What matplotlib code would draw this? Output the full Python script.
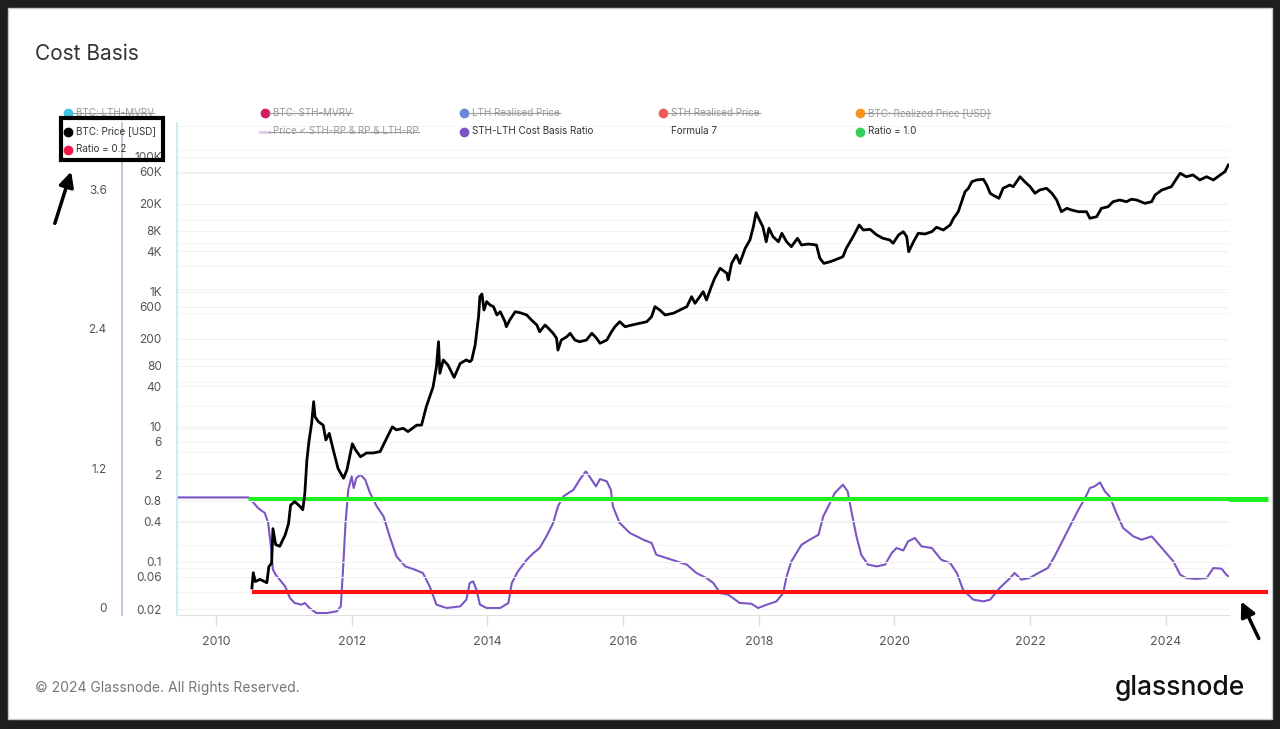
import matplotlib.pyplot as plt
import numpy as np
from matplotlib.lines import Line2D
from matplotlib.patches import Rectangle, FancyArrowPatch
from matplotlib.ticker import NullLocator
from matplotlib.transforms import ScaledTranslation

plt.rcParams['font.family'] = ['Inter', 'DejaVu Sans']

# BTC price [USD] (decimal year, price)
price_years = [
    2010.53, 2010.55, 2010.58, 2010.65, 2010.75, 2010.78, 2010.82, 2010.84, 2010.88, 2010.94,
    2011.02, 2011.07, 2011.10, 2011.16, 2011.24, 2011.28, 2011.31, 2011.34, 2011.37, 2011.41,
    2011.44, 2011.46, 2011.51, 2011.58, 2011.62, 2011.67, 2011.73, 2011.80, 2011.88, 2011.93,
    2011.97, 2012.01, 2012.06, 2012.13, 2012.22, 2012.32, 2012.42, 2012.49, 2012.60, 2012.66,
    2012.76, 2012.83, 2012.96, 2013.03, 2013.10, 2013.20, 2013.25, 2013.28, 2013.30, 2013.35,
    2013.42, 2013.51, 2013.60, 2013.69, 2013.74, 2013.77, 2013.82, 2013.87, 2013.89, 2013.92,
    2013.95, 2013.99, 2014.04, 2014.09, 2014.14, 2014.19, 2014.26, 2014.28, 2014.33, 2014.41,
    2014.48, 2014.58, 2014.65, 2014.73, 2014.77, 2014.85, 2014.90, 2014.97, 2015.02, 2015.04,
    2015.09, 2015.17, 2015.22, 2015.29, 2015.36, 2015.46, 2015.54, 2015.61, 2015.66, 2015.76,
    2015.83, 2015.88, 2015.95, 2016.03, 2016.13, 2016.25, 2016.35, 2016.42, 2016.47, 2016.54,
    2016.62, 2016.74, 2016.84, 2016.94, 2017.01, 2017.06, 2017.13, 2017.18, 2017.23, 2017.30,
    2017.35, 2017.43, 2017.53, 2017.55, 2017.60, 2017.67, 2017.72, 2017.80, 2017.87, 2017.92,
    2017.96, 2018.01, 2018.06, 2018.11, 2018.15, 2018.21, 2018.29, 2018.34, 2018.41, 2018.48,
    2018.57, 2018.63, 2018.73, 2018.85, 2018.90, 2018.96, 2019.05, 2019.12, 2019.24, 2019.29,
    2019.39, 2019.48, 2019.54, 2019.64, 2019.74, 2019.83, 2019.93, 2019.98, 2020.06, 2020.13,
    2020.18, 2020.21, 2020.28, 2020.35, 2020.45, 2020.55, 2020.62, 2020.72, 2020.82, 2020.87,
    2020.94, 2020.99, 2021.04, 2021.09, 2021.14, 2021.21, 2021.31, 2021.36, 2021.41, 2021.45,
    2021.54, 2021.60, 2021.70, 2021.75, 2021.85, 2021.92, 2022.00, 2022.07, 2022.14, 2022.24,
    2022.32, 2022.39, 2022.46, 2022.54, 2022.61, 2022.71, 2022.83, 2022.88, 2022.98, 2023.05,
    2023.15, 2023.22, 2023.32, 2023.42, 2023.49, 2023.57, 2023.69, 2023.79, 2023.84, 2023.94,
    2024.08, 2024.16, 2024.21, 2024.30, 2024.40, 2024.50, 2024.60, 2024.70, 2024.80, 2024.87,
    2024.92,
]
price_usd = [
    0.041, 0.069, 0.051, 0.055, 0.049, 0.085, 0.095, 0.31, 0.18, 0.17,
    0.25, 0.37, 0.69, 0.78, 0.66, 0.59, 1.04, 3.2, 6.0, 11.3,
    23.6, 14.1, 11.9, 10.6, 6.4, 8.0, 4.5, 2.4, 1.73, 2.3,
    3.6, 5.6, 4.5, 3.6, 4.1, 4.1, 4.3, 6.0, 10.0, 9.0,
    9.5, 8.5, 10.6, 10.6, 19.9, 39, 78, 182, 62, 98,
    82, 54, 87, 98, 92, 98, 163, 428, 847, 929,
    538, 715, 638, 603, 454, 507, 361, 304, 382, 507,
    491, 454, 382, 322, 256, 322, 288, 243, 205, 137,
    193, 216, 243, 193, 182, 193, 243, 205, 173, 193,
    256, 304, 361, 304, 322, 342, 361, 428, 603, 538,
    454, 481, 538, 603, 847, 676, 847, 1005, 757, 1190,
    1585, 2230, 1880, 1500, 2640, 3510, 2640, 4420, 5860, 9230,
    14860, 11590, 9230, 5520, 8750, 6560, 5520, 7360, 5520, 4660,
    6210, 4940, 5110, 4940, 3140, 2640, 2790, 2960, 3310, 4420,
    6560, 9770, 8240, 8430, 6950, 6210, 5860, 5240, 6950, 7780,
    6560, 3930, 5520, 7360, 7190, 7780, 9040, 8240, 9770, 12280,
    15380, 21620, 30410, 34200, 42770, 45400, 46460, 38200, 28840, 27160,
    24270, 34200, 38200, 36060, 50700, 42770, 36060, 28840, 32220, 34200,
    28840, 22920, 15380, 17260, 16290, 15380, 15380, 12280, 12970, 17260,
    18240, 21620, 22920, 21620, 23500, 22920, 20460, 21620, 27160, 32220,
    36060, 48080, 57020, 50700, 53830, 45400, 50700, 45400, 53830, 60260,
    75680,
]

# STH-LTH cost basis ratio
ratio_years = [
    2009.43, 2010.48, 2010.55, 2010.62, 2010.72, 2010.77, 2010.81, 2010.84, 2010.88, 2010.94,
    2011.02, 2011.09, 2011.16, 2011.26, 2011.31, 2011.38, 2011.48, 2011.63, 2011.78, 2011.84,
    2011.87, 2011.91, 2011.95, 2012.00, 2012.03, 2012.07, 2012.13, 2012.20, 2012.27, 2012.37,
    2012.47, 2012.56, 2012.66, 2012.79, 2012.93, 2013.05, 2013.15, 2013.25, 2013.40, 2013.60,
    2013.69, 2013.74, 2013.79, 2013.84, 2013.89, 2013.99, 2014.19, 2014.31, 2014.36, 2014.45,
    2014.58, 2014.68, 2014.77, 2014.87, 2014.97, 2015.04, 2015.12, 2015.27, 2015.36, 2015.45,
    2015.52, 2015.60, 2015.66, 2015.76, 2015.82, 2015.85, 2015.95, 2016.10, 2016.30, 2016.42,
    2016.49, 2016.64, 2016.79, 2016.94, 2017.08, 2017.23, 2017.33, 2017.43, 2017.55, 2017.72,
    2017.89, 2017.99, 2018.12, 2018.26, 2018.36, 2018.41, 2018.48, 2018.63, 2018.75, 2018.88,
    2018.95, 2019.05, 2019.12, 2019.24, 2019.31, 2019.37, 2019.44, 2019.51, 2019.61, 2019.74,
    2019.86, 2019.96, 2020.03, 2020.13, 2020.20, 2020.30, 2020.40, 2020.55, 2020.69, 2020.82,
    2020.92, 2021.01, 2021.16, 2021.31, 2021.41, 2021.55, 2021.68, 2021.77, 2021.87, 2021.99,
    2022.12, 2022.26, 2022.36, 2022.46, 2022.56, 2022.71, 2022.81, 2022.88, 2022.95, 2023.03,
    2023.10, 2023.17, 2023.27, 2023.37, 2023.52, 2023.64, 2023.79, 2023.94, 2024.11, 2024.21,
    2024.30, 2024.45, 2024.60, 2024.70, 2024.82, 2024.89, 2024.93,
]
ratio_values = [
    1.011, 1.011, 0.968, 0.920, 0.877, 0.791, 0.590, 0.390, 0.347, 0.304,
    0.246, 0.146, 0.103, 0.089, 0.103, 0.060, 0.017, 0.017, 0.031, 0.074,
    0.361, 0.791, 1.077, 1.192, 1.092, 1.178, 1.206, 1.163, 1.049, 0.934,
    0.848, 0.676, 0.504, 0.418, 0.390, 0.361, 0.246, 0.089, 0.060, 0.074,
    0.132, 0.275, 0.289, 0.218, 0.089, 0.060, 0.060, 0.103, 0.275, 0.375,
    0.475, 0.533, 0.576, 0.676, 0.791, 0.934, 1.020, 1.077, 1.163, 1.235,
    1.178, 1.106, 1.169, 1.149, 1.077, 0.934, 0.791, 0.705, 0.647, 0.619,
    0.518, 0.490, 0.461, 0.433, 0.361, 0.318, 0.275, 0.189, 0.175, 0.103,
    0.097, 0.060, 0.089, 0.117, 0.189, 0.332, 0.461, 0.604, 0.647, 0.690,
    0.848, 0.963, 1.049, 1.120, 1.063, 0.877, 0.676, 0.518, 0.433, 0.418,
    0.433, 0.533, 0.576, 0.555, 0.633, 0.662, 0.590, 0.576, 0.475, 0.447,
    0.361, 0.218, 0.132, 0.117, 0.132, 0.232, 0.304, 0.361, 0.304, 0.318,
    0.361, 0.404, 0.504, 0.619, 0.733, 0.905, 1.006, 1.092, 1.106, 1.140,
    1.063, 1.020, 0.877, 0.748, 0.676, 0.647, 0.676, 0.576, 0.461, 0.347,
    0.318, 0.310, 0.318, 0.404, 0.398, 0.347, 0.327,
]

# horizontal reference levels (ratio, first year, last year)
level_high = [1.0, 2010.47, 2025.5]
level_low = [0.2, 2010.53, 2025.5]

price_ticks = [0.02, 0.06, 0.1, 0.4, 0.8, 2, 6, 10, 40, 80, 200, 600,
               1000, 4000, 8000, 20000, 60000, 100000]
price_tick_labels = ['0.02', '0.06', '0.1', '0.4', '0.8', '2', '6', '10', '40', '80',
                     '200', '600', '1K', '4K', '8K', '20K', '60K', '100K']
ratio_ticks = [0, 1.2, 2.4, 3.6]
ratio_tick_labels = ['0', '1.2', '2.4', '3.6']
year_ticks = [2010, 2012, 2014, 2016, 2018, 2020, 2022, 2024]

legend_labels = ['BTC: LTH-MVRV', 'BTC: STH-MVRV', 'LTH Realised Price', 'STH Realised Price',
                 'BTC: Realized Price [USD]',
                 'BTC: Price [USD]', 'Price < STH-RP & RP & LTH-RP', 'STH-LTH Cost Basis Ratio',
                 'Formula 7', 'Ratio = 1.0',
                 'Ratio = 0.2']
legend_colors = ['#3cc3e6', '#cf1d62', '#6a86d6', '#ef5a5a', '#f7931a',
                 '#000000', '#dcc9ef', '#7c55c4', None, '#35d05a',
                 '#ee1848']
legend_hidden = [True, True, True, True, True,
                 False, True, False, False, False,
                 False]

W, H = 1280, 729


def fx(px):
    return px / W


def fy(py):
    return 1 - py / H


fig = plt.figure(figsize=(12.8, 7.29), dpi=100, facecolor='#1e1e1e')
fig.patches.append(Rectangle((fx(8), fy(719)), fx(1272) - fx(8), fy(8) - fy(719),
                             transform=fig.transFigure, facecolor='white',
                             edgecolor='#c8c8c8', lw=1, zorder=0))

ax = fig.add_axes([fx(177), fy(615), fx(1229) - fx(177), fy(123) - fy(615)])
axr = ax.twinx()
ax.set_zorder(3)
axr.set_zorder(2)
ax.patch.set_visible(False)
axr.patch.set_visible(False)

# price axis (log)
ax.set_yscale('log')
ax.set_ylim(0.0163, 316900)
ax.set_yticks(price_ticks, price_tick_labels)
ax.yaxis.set_minor_locator(NullLocator())
ax.tick_params(axis='y', length=0, pad=11, labelsize=8.5, labelcolor='#555555')
ax.grid(axis='y', color='#f1f1f1', lw=0.8)
ax.set_xlim(2009.426, 2024.93)
ax.set_xticks(year_ticks, [str(y) for y in year_ticks])
ax.tick_params(axis='x', length=8, width=1, color='#e0e0e0', pad=7,
               labelsize=9, labelcolor='#555555')
for s in ['top', 'right']:
    ax.spines[s].set_visible(False)
ax.spines['left'].set_color('#c3e6f3')
ax.spines['left'].set_linewidth(1.2)
ax.spines['bottom'].set_color('#e0e0e0')

# ratio axis, further out on the left (55 px)
axr.yaxis.tick_left()
axr.spines['left'].set_position(('outward', 55 * 0.72))
axr.spines['left'].set_visible(True)
axr.spines['left'].set_color('#b3bfd9')
axr.spines['left'].set_linewidth(1.2)
for s in ['top', 'right', 'bottom']:
    axr.spines[s].set_visible(False)
axr.set_ylim(0, 4.23)
axr.set_yticks(ratio_ticks, ratio_tick_labels)
axr.set_yticks(np.arange(0, 4.3, 0.2), minor=True)
axr.tick_params(axis='y', which='both', length=0, pad=11, labelsize=8.5, labelcolor='#555555')
axr.grid(axis='y', which='minor', color='#f4f4f4', lw=0.8)
offset = ScaledTranslation(0, 7 / 100, fig.dpi_scale_trans)
for lbl in axr.get_yticklabels():
    lbl.set_transform(lbl.get_transform() + offset)

axr.plot(ratio_years, ratio_values, color='#7c55c4', lw=1.5, zorder=3)
axr.plot(level_high[1:], [level_high[0]] * 2, color='#1ff01f', lw=3.6, clip_on=False,
         solid_capstyle='butt', zorder=4)
axr.plot(level_low[1:], [level_low[0]] * 2, color='#ff1212', lw=3.0, clip_on=False,
         solid_capstyle='butt', zorder=4)
ax.plot(price_years, price_usd, color='black', lw=2, zorder=5)

# titles and footer
fig.text(fx(35), fy(54), 'Cost Basis', fontsize=15, color='#333333', va='center')
fig.text(fx(35), fy(688), '\u00a9 2024 Glassnode. All Rights Reserved.', fontsize=10,
         color='#777777', va='center')
fig.text(fx(1245), fy(688), 'glassnode', fontsize=19, color='#111111', ha='right',
         va='center', weight='medium')

# legend drawn by hand (glassnode style, hidden series struck through)
renderer = fig.canvas.get_renderer()
dot_x = [68, 265, 464, 663, 860]
row_y = [113, 131.5, 149.5]
for i, label in enumerate(legend_labels):
    px = dot_x[i % 5]
    py = row_y[i // 5]
    color = legend_colors[i]
    hidden = legend_hidden[i]
    if color is not None:
        if label.startswith('Price <'):
            fig.add_artist(Line2D([fx(px - 5), fx(px + 4)], [fy(py), fy(py)],
                                  transform=fig.transFigure, color=color, lw=2))
        else:
            fig.add_artist(Line2D([fx(px)], [fy(py)], transform=fig.transFigure,
                                  marker='o', ms=6, color=color, lw=0))
    t = fig.text(fx(px + 8), fy(py), label, fontsize=7.1, va='center',
                 color='#9a9a9a' if hidden else '#333333')
    if hidden:
        bb = t.get_window_extent(renderer)
        fig.add_artist(Line2D([fx(px + 4), bb.x1 / W], [fy(py), fy(py)],
                              transform=fig.transFigure, color='#9a9a9a', lw=0.8))

# highlight box and arrows
fig.patches.append(Rectangle((fx(61), fy(160)), fx(163) - fx(61), fy(118) - fy(160),
                             transform=fig.transFigure, fill=False, edgecolor='black',
                             lw=3, zorder=10))
fig.add_artist(FancyArrowPatch((fx(54), fy(226)), (fx(72), fy(169)),
                               transform=fig.transFigure, arrowstyle='-|>',
                               mutation_scale=22, lw=2.5, color='black'))
fig.add_artist(FancyArrowPatch((fx(1260), fy(641)), (fx(1240), fy(599)),
                               transform=fig.transFigure, arrowstyle='-|>',
                               mutation_scale=22, lw=2.5, color='black'))

fig.savefig('out.png', dpi=100, facecolor=fig.get_facecolor())
